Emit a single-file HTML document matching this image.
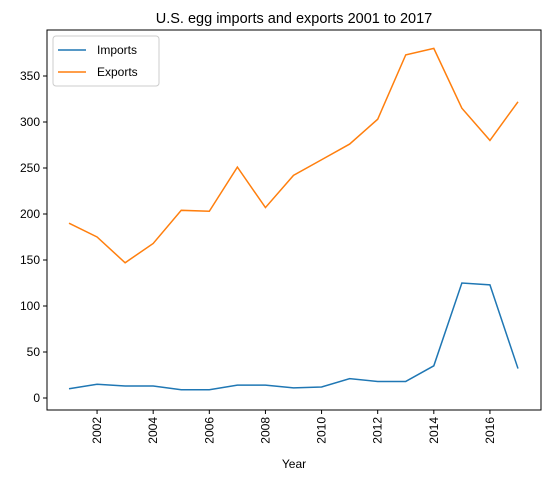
<!DOCTYPE html>
<html><head><meta charset="utf-8"><style>
body{margin:0;background:#fff;font-family:"Liberation Sans","DejaVu Sans",sans-serif;}
</style></head><body>
<svg id="chart" width="552" height="481" xmlns="http://www.w3.org/2000/svg"></svg>
<script>
const years=[2001,2002,2003,2004,2005,2006,2007,2008,2009,2010,2011,2012,2013,2014,2015,2016,2017];
const imports=[10,15,13,13,9,9,14,14,11,12,21,18,18,35,125,123,32];
const exports_=[190,175,147,168,204,203,251,207,242,259,276,303,373,380,315,280,322];
const yTicks=[0,50,100,150,200,250,300,350];
const xTicks=[2002,2004,2006,2008,2010,2012,2014,2016];
const NS="http://www.w3.org/2000/svg";
const svg=document.getElementById('chart');
const L=47,R=541,T=30,B=410;
const xs=y=>69+(y-2001)*(518-69)/16;
const ys=v=>398-v*0.92;
function el(tag,attrs,parent){const e=document.createElementNS(NS,tag);for(const k in attrs)e.setAttribute(k,attrs[k]);(parent||svg).appendChild(e);return e;}
const frame=el('rect',{x:L,y:T,width:R-L,height:B-T,fill:'none',stroke:'#000','stroke-width':1});


yTicks.forEach(v=>{
  const y=ys(v);
  const tk=el('line',{x1:L-4,x2:L,y1:y,y2:y,stroke:'#000'});
  
  
  const t=el('text',{x:L-7,y:y+4,'text-anchor':'end','font-size':12});
  t.textContent=v;
  
  
});
xTicks.forEach(v=>{
  const x=xs(v);
  const tk=el('line',{x1:x,x2:x,y1:B,y2:B+4,stroke:'#000'});
  
  
  const t=el('text',{x:0,y:0,'text-anchor':'end','font-size':12,transform:`translate(${x+4},${B+7}) rotate(-90)`});
  t.textContent=v;
  
  
});
function line(data,color,name){
  const p=el('polyline',{points:data.map((v,i)=>xs(years[i])+','+ys(v)).join(' '),fill:'none',stroke:color,'stroke-width':1.5});
  
  
}
line(imports,'#1f77b4','imports-line');
line(exports_,'#ff7f0e','exports-line');
const title=el('text',{x:294,y:23,'text-anchor':'middle','font-size':14.5});
title.textContent='U.S. egg imports and exports 2001 to 2017';


const xl=el('text',{x:294,y:468,'text-anchor':'middle','font-size':12});
xl.textContent='Year';


const lg=el('g',{});


el('rect',{x:53,y:36,width:106,height:50,rx:3,fill:'#fff',stroke:'#ccc'},lg);
[['Imports','#1f77b4',50],['Exports','#ff7f0e',72]].forEach(([n,c,y])=>{
  const l=el('line',{x1:58,x2:86,y1:y,y2:y,stroke:c,'stroke-width':1.5},lg);
  
  
  const t=el('text',{x:97,y:y+4,'font-size':12},lg);
  t.textContent=n;
  
  
});
</script>
</body></html>
